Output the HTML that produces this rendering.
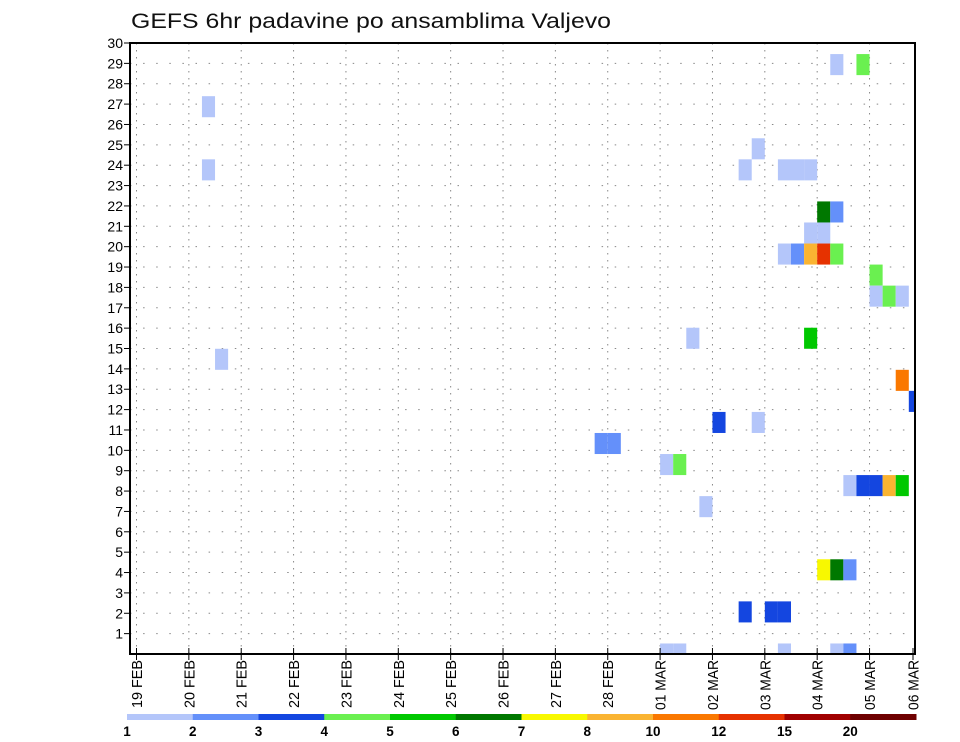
<!DOCTYPE html>
<html><head><meta charset="utf-8">
<style>
html,body{margin:0;padding:0;background:#fff;}
svg{display:block;font-family:"Liberation Sans",sans-serif;}
</style></head>
<body>
<svg id="chart" width="960" height="742" viewBox="0 0 960 742" xmlns="http://www.w3.org/2000/svg">
<text x="131" y="28" font-size="21" fill="#111" textLength="480" lengthAdjust="spacingAndGlyphs">GEFS 6hr padavine po ansamblima Valjevo</text>
<g id="grid"></g>
<g id="cells"></g>
<g id="axes"></g>
<g id="legend"></g>
</svg>
<script>
// ---- data ----
const dayLabels = ["19 FEB","20 FEB","21 FEB","22 FEB","23 FEB","24 FEB","25 FEB","26 FEB","27 FEB","28 FEB","01 MAR","02 MAR","03 MAR","04 MAR","05 MAR","06 MAR"];
const yTicks = [1,2,3,4,5,6,7,8,9,10,11,12,13,14,15,16,17,18,19,20,21,22,23,24,25,26,27,28,29,30];
const binLabels = ["1","2","3","4","5","6","7","8","10","12","15","20"];
const binColors = ["#b4c6fa","#6490fa","#1446e0","#6af050","#00c800","#007800","#f8f800","#fab432","#fa7800","#e63200","#a00000","#6e0000"];
// cells: 6-hour step index from 19 FEB 00Z, ensemble member row, precip bin index
const cellStep   = [5,5,6,35,36,40,41,40,41,42,43,44,46,48,49,47,46,47,49,50,51,52,53,51,52,49,50,51,52,53,51,49,52,53,54,53,54,54,55,56,57,58,53,55,56,56,57,58,58,59];
const cellMember = [26,23,14,10,10,9,9,0,0,15,7,11,2,2,2,11,23,24,23,23,23,21,21,20,20,19,19,19,19,19,15,0,4,4,4,0,0,8,8,8,8,8,28,28,18,17,17,17,13,12];
const cellBin    = [0,0,0,1,1,0,3,0,0,0,0,2,2,2,2,0,0,0,0,0,0,5,1,0,0,0,1,7,9,3,4,0,6,5,1,0,1,0,2,2,7,4,0,3,3,0,3,0,8,2];

// ---- scales ----
const L=130, R=915, T=43, B=654;
const DAY=52.36, X0=136.5;
const xDay = d => X0 + d*DAY;
const xStep = s => X0 + s*DAY/4;
const yTick = v => B - v*(B-T)/30;
const ROWH = 21.05;
const yMember = m => B - m*ROWH;
const NS="http://www.w3.org/2000/svg";
function mk(tag, attrs, parent){const e=document.createElementNS(NS,tag);for(const k in attrs)e.setAttribute(k,attrs[k]);parent.appendChild(e);return e;}

const grid=document.getElementById('grid');
for(let i=0;i<dayLabels.length;i++){
  const x=xDay(i); if(x<=L||x>=R) continue;
  const ln=mk('line',{x1:x,x2:x,y1:T,y2:B,stroke:'#888','stroke-width':1,'stroke-dasharray':'1.5,5.5'},grid);
  
  
}
for(const v of yTicks){
  if(v>=30) continue;
  const y=yTick(v);
  const ln=mk('line',{x1:L,x2:R,y1:y,y2:y,stroke:'#888','stroke-width':1,'stroke-dasharray':'1.5,11.6'},grid);
  
  
}

// cells
const cg=document.getElementById('cells');
mk('clipPath',{id:'pc'},cg).appendChild((()=>{const r=document.createElementNS(NS,'rect');r.setAttribute('x',L);r.setAttribute('y',T);r.setAttribute('width',R-L);r.setAttribute('height',B-T);return r;})());
const cells=mk('g',{'clip-path':'url(#pc)'},cg);
for(let i=0;i<cellStep.length;i++){
  const x=xStep(cellStep[i]); const yc=yMember(cellMember[i]);
  const r=mk('rect',{x:x,y:yc-ROWH/2,width:DAY/4,height:ROWH,fill:binColors[cellBin[i]]},cells);
  
  
}

// axes
const ax=document.getElementById('axes');
const frame=mk('rect',{x:L,y:T,width:R-L,height:B-T,fill:'none',stroke:'#000','stroke-width':2},ax);


for(const v of yTicks){
  const y=yTick(v);
  mk('line',{x1:L-6,x2:L,y1:y,y2:y,stroke:'#000','stroke-width':1},ax);
  const t=mk('text',{x:L-7,y:y+5,'font-size':14,'text-anchor':'end',fill:'#000'},ax);
  t.textContent=v;
  
  
}
for(let i=0;i<dayLabels.length;i++){
  let x=Math.min(xDay(i),913);
  mk('line',{x1:x,x2:x,y1:B-6,y2:B+6,stroke:'#000','stroke-width':1},ax);
  const len = dayLabels[i].indexOf('MAR')>=0 ? 50 : 48;
  const t=mk('text',{x:0,y:0,'font-size':15,'text-anchor':'end',fill:'#000',textLength:len,lengthAdjust:'spacingAndGlyphs',transform:`translate(${x+5.5},${B+6}) rotate(-90)`},ax);
  t.textContent=dayLabels[i];
  
  
}

// legend
const lg=document.getElementById('legend');
const LX0=127, LX1=916, LW=(LX1-LX0)/binColors.length;
for(let i=0;i<binColors.length;i++){
  const r=mk('rect',{x:LX0+i*LW,y:714,width:LW+0.5,height:6,fill:binColors[i]},lg);
  
  
  const t=mk('text',{x:LX0+i*LW,y:736,'font-size':13.5,'font-weight':'bold','text-anchor':'middle',fill:'#000'},lg);
  t.textContent=binLabels[i];
  
  
}
</script>
</body></html>
